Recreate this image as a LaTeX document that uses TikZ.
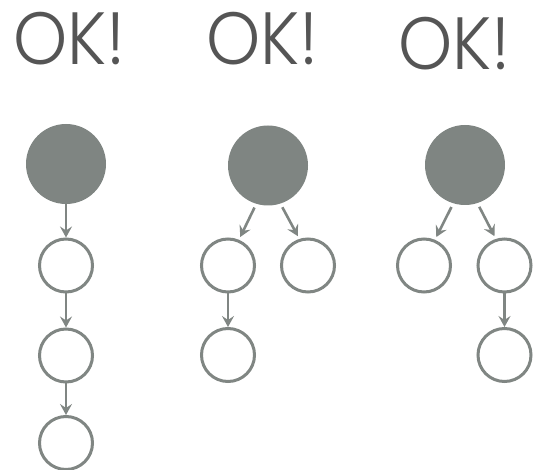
\documentclass[tikz,border=0pt]{standalone}
\usepackage{fontspec}
\usetikzlibrary{arrows.meta}
\newfontfamily\okfont{Poppins Light}
\definecolor{nodegray}{RGB}{127,133,130}
\definecolor{linegray}{RGB}{128,134,131}
\definecolor{textgray}{RGB}{85,85,85}
\tikzset{
  bignode/.style={circle,fill=nodegray,draw=none,minimum size=80pt,inner sep=0pt},
  smallnode/.style={circle,draw=linegray,line width=3pt,fill=white,minimum size=53pt,inner sep=0pt},
  link/.style={draw=linegray,line width=2.6pt,-{Stealth[length=11pt,width=12pt,inset=4pt]}},
  oktext/.style={text=textgray,font=\okfont\fontsize{74}{74}\selectfont,inner sep=0pt,anchor=base west,xscale=0.93}
}
\begin{document}
\begin{tikzpicture}[x=1pt,y=-1pt]
\useasboundingbox (0,0) rectangle (533,470);
% titles
\node[oktext] (t1) at (13,65) {OK!};
\node[oktext] (t2) at (206,65) {OK!};
\node[oktext] (t3) at (398,70) {OK!};
% tree 1
\node[bignode] (a0) at (66,164) {};
\node[smallnode] (a1) at (66,265.5) {};
\node[smallnode] (a2) at (66,355.5) {};
\node[smallnode] (a3) at (66,443) {};
\draw[link] (a0) -- (a1);
\draw[link] (a1) -- (a2);
\draw[link] (a2) -- (a3);
% tree 2
\node[bignode] (b0) at (268,165.5) {};
\node[smallnode] (b1) at (228,265.5) {};
\node[smallnode] (b2) at (308,265.5) {};
\node[smallnode] (b3) at (228,355) {};
\draw[link,shorten <=4pt,shorten >=3pt] (b0.253) -- (b1.67);
\draw[link,shorten <=4pt,shorten >=3pt] (b0.288) -- (b2.108);
\draw[link] (b1) -- (b3);
% tree 3
\node[bignode] (c0) at (465,165) {};
\node[smallnode] (c1) at (424,265.5) {};
\node[smallnode] (c2) at (504.5,265.5) {};
\node[smallnode] (c3) at (504.5,355) {};
\draw[link,shorten <=4pt,shorten >=3pt] (c0.253) -- (c1.67);
\draw[link,shorten <=4pt,shorten >=3pt] (c0.288) -- (c2.108);
\draw[link] (c2) -- (c3);
\end{tikzpicture}
\end{document}
